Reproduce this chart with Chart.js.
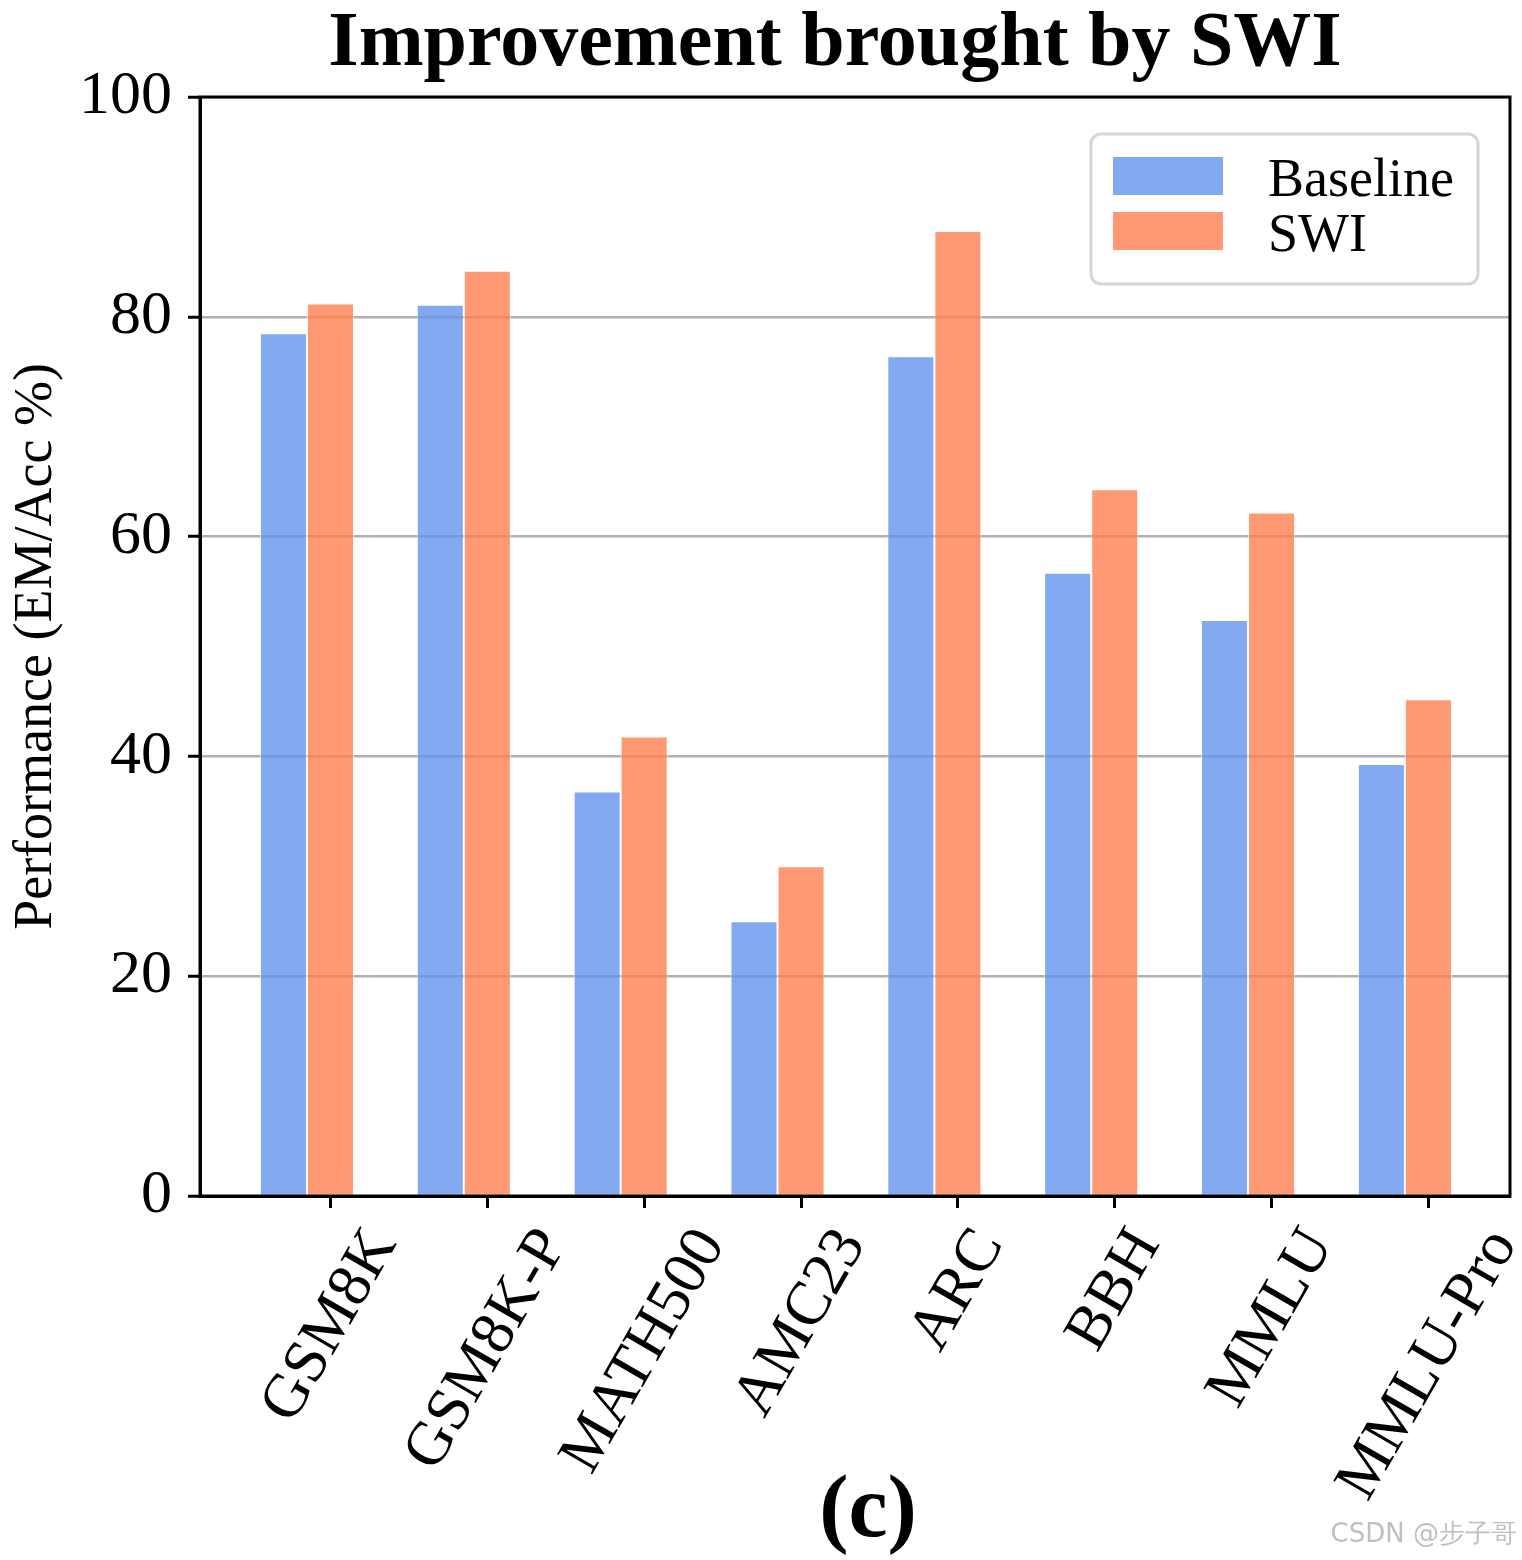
<!DOCTYPE html>
<html>
<head>
<meta charset="utf-8">
<script src="https://cdn.jsdelivr.net/npm/chart.js@4.4.1/dist/chart.umd.min.js"></script>
<style>
  html, body { margin: 0; padding: 0; background: #fff; }
  #wrap { width: 1522px; height: 1560px; }
</style>
</head>
<body>
<div id="wrap"><canvas id="swiChart"></canvas></div>
<script>
const categories = ['GSM8K', 'GSM8K-P', 'MATH500', 'AMC23', 'ARC', 'BBH', 'MMLU', 'MMLU-Pro'];
const baselineScores = [78.5, 81.1, 36.8, 25.0, 76.4, 56.7, 52.4, 39.3];
const swiScores = [81.2, 84.2, 41.8, 30.0, 87.8, 64.3, 62.2, 45.2];
const yTicks = [0, 20, 40, 60, 80, 100];

const serif = '"Liberation Serif", "Times New Roman", serif';

// title, legend, rotated x labels, frame, "(c)" and watermark
const extras = {
  id: 'extras',
  afterDraw(chart) {
    const { ctx, chartArea: a, scales: { x } } = chart;
    ctx.save();

    ctx.strokeStyle = '#000';
    ctx.lineWidth = 3;
    ctx.strokeRect(a.left, a.top, a.right - a.left, a.bottom - a.top);

    ctx.fillStyle = '#000';
    ctx.textAlign = 'center';
    ctx.textBaseline = 'alphabetic';
    ctx.font = 'bold 78px ' + serif;
    ctx.fillText('Improvement brought by SWI', 835, 65);
    ctx.font = 'bold 88px ' + serif;
    ctx.fillText('(c)', 868, 1536);

    const fs = 62;
    const th = 60 * Math.PI / 180;
    ctx.font = fs + 'px ' + serif;
    ctx.textBaseline = 'middle';
    categories.forEach((c, i) => {
      const w = ctx.measureText(c).width, h = fs * 0.85;
      const bh = w * Math.sin(th) + h * Math.cos(th);
      const cx = x.getPixelForValue(i + 0.15);
      const cy = a.bottom + 26 + bh / 2;
      ctx.save();
      ctx.translate(cx, cy);
      ctx.rotate(-th);
      ctx.fillText(c, 0, 0);
      ctx.restore();
    });

    const bx = a.right - 419, by = a.top + 37;
    ctx.beginPath();
    ctx.roundRect(bx, by, 387, 150, 10);
    ctx.fillStyle = 'rgba(255,255,255,0.8)';
    ctx.fill();
    ctx.strokeStyle = '#d6d6d6';
    ctx.lineWidth = 3;
    ctx.stroke();
    ctx.font = '54px ' + serif;
    ctx.textAlign = 'left';
    ctx.textBaseline = 'alphabetic';
    chart.data.datasets.forEach((ds, k) => {
      const sy = by + 23 + k * 55;
      ctx.fillStyle = ds.backgroundColor;
      ctx.fillRect(bx + 22, sy, 110, 38);
      ctx.fillStyle = '#000';
      ctx.fillText(ds.label, bx + 177, sy + 39);
    });

    ctx.font = '26px "DejaVu Sans", sans-serif';
    ctx.fillStyle = 'rgba(170,170,170,0.75)';
    ctx.textAlign = 'right';
    ctx.fillText('CSDN @步子哥', 1517, 1542);
    ctx.restore();
  }
};

const ctx = document.getElementById('swiChart').getContext('2d');
const swiChart = new Chart(ctx, {
  type: 'bar',
  data: {
    datasets: [
      {
        label: 'Baseline',
        data: baselineScores.map((v, i) => ({ x: i, y: v })),
        backgroundColor: 'rgba(100, 149, 237, 0.8)',
        borderColor: 'rgba(255, 255, 255, 0.6)',
        borderWidth: 1
      },
      {
        label: 'SWI',
        data: swiScores.map((v, i) => ({ x: i, y: v })),
        backgroundColor: 'rgba(255, 127, 80, 0.8)',
        borderColor: 'rgba(255, 255, 255, 0.6)',
        borderWidth: 1
      }
    ]
  },
  options: {
    responsive: true,
    maintainAspectRatio: false,
    devicePixelRatio: 1,
    animation: false,
    barPercentage: 1.0,
    categoryPercentage: 0.6,
    layout: { padding: { left: 0, right: 12, top: 97, bottom: 0 } },
    plugins: {
      legend: { display: false },
      tooltip: { enabled: false },
      title: { display: false }
    },
    scales: {
      x: {
        type: 'linear',
        offset: false,
        min: -0.682,
        max: 7.67,
        afterBuildTicks: (s) => { s.ticks = categories.map((c, i) => ({ value: i + 0.15 })); },
        afterFit: (s) => { s.height = 364; },
        ticks: { display: false },
        grid: {
          display: true,
          offset: false,
          drawOnChartArea: false,
          drawTicks: true,
          tickLength: 12,
          tickColor: '#000',
          tickWidth: 3
        },
        border: { display: true, color: '#000', width: 3 }
      },
      y: {
        min: 0,
        max: 100,
        z: 1,
        afterBuildTicks: (s) => { s.ticks = yTicks.map(v => ({ value: v })); },
        afterFit: (s) => { s.width = 200; },
        ticks: {
          color: '#000',
          padding: 16,
          font: { family: serif, size: 62 }
        },
        grid: {
          color: '#b0b0b0',
          lineWidth: 2.5,
          drawTicks: true,
          tickLength: 12,
          tickColor: '#000',
          tickWidth: 3
        },
        border: { display: true, color: '#000', width: 3 },
        title: {
          display: true,
          text: 'Performance (EM/Acc %)',
          color: '#000',
          font: { family: serif, size: 54, lineHeight: 1 },
          padding: { top: 10, bottom: 0 }
        }
      }
    }
  },
  plugins: [extras]
});
</script>
</body>
</html>
